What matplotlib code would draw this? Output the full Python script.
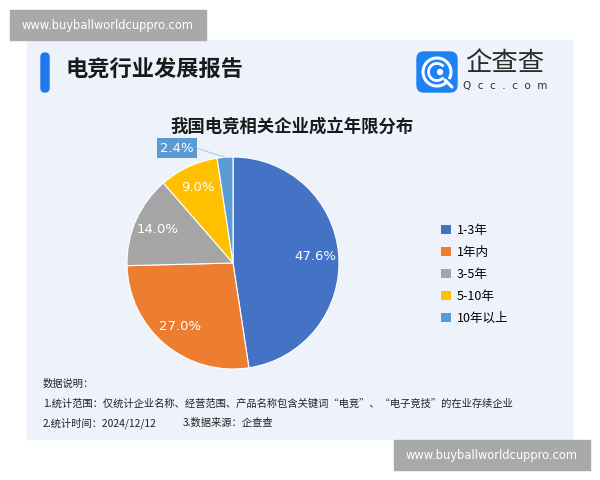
import numpy as np
import matplotlib
matplotlib.use('Agg')
import matplotlib.pyplot as plt
from matplotlib.patches import Rectangle, FancyBboxPatch, Circle, Arc

plt.rcParams['font.family'] = ['Noto Sans CJK SC', 'DejaVu Sans']

# данные
categories = ['1-3年', '1年内', '3-5年', '5-10年', '10年以上']
shares = [47.6, 27.0, 14.0, 9.0, 2.4]
colors = ['#4472C4', '#ED7D31', '#A5A5A5', '#FFC000', '#5B9BD5']

title = '电竞行业发展报告'
subtitle = '我国电竞相关企业成立年限分布'
notes = ['数据说明：',
         '1.统计范围：仅统计企业名称、经营范围、产品名称包含关键词“电竞”、“电子竞技”的在业存续企业',
         '2.统计时间：2024/12/12']
source_note = '3.数据来源：企查查'
watermark = 'www.buyballworldcuppro.com'

W, H = 600, 480
fig = plt.figure(figsize=(6, 4.8), dpi=100)
ax = fig.add_axes([0, 0, 1, 1])


def Y(y):
    # pixel rows from top -> data y
    return H - y


# фон панели
ax.add_patch(Rectangle((27, Y(439)), 572 - 27, 439 - 40, color='#EEF2FB', zorder=0))

# заголовок
ax.add_patch(FancyBboxPatch((41, Y(92)), 8, 39, boxstyle='round,pad=0,rounding_size=4',
                            color='#1F78F0', zorder=2))
ax.text(65, Y(70), title, fontsize=16, fontweight='bold', color='#1A1A1A',
        va='center', ha='left', zorder=3)

# логотип
ax.add_patch(FancyBboxPatch((417, Y(92)), 40, 40, boxstyle='round,pad=0,rounding_size=7',
                            color='#1E82F5', zorder=2))
ax.add_patch(Arc((437, Y(72)), 28, 28, theta1=-30, theta2=320, color='white', lw=2.2, zorder=3))
ax.add_patch(Arc((437, Y(72)), 17, 17, theta1=40, theta2=320, color='white', lw=2.0, zorder=3))
ax.add_patch(Circle((440, Y(72)), 2.5, color='white', zorder=3))
ax.plot([445, 452], [Y(80), Y(87)], color='white', lw=2.2, zorder=3, solid_capstyle='round')
ax.text(505, Y(64), '企查查', fontsize=19, color='#2B2B2B', ha='center', va='center', zorder=3)
ax.text(505, Y(86), 'Q  c  c  .  c  o  m', fontsize=7.5, color='#2B2B2B', ha='center', va='center',
        family='DejaVu Sans', zorder=3)

ax.text(292, Y(127), subtitle, fontsize=12.5, fontweight='bold', color='#1A1A1A',
        ha='center', va='center', zorder=3)

# круговая диаграмма
cx, cy, r = 233, Y(263), 106
wedges, texts, autotexts = ax.pie(shares, colors=colors, startangle=90, counterclock=False,
                                  center=(cx, cy), radius=r,
                                  autopct='%.1f%%', pctdistance=0.78,
                                  wedgeprops=dict(edgecolor='white', linewidth=0.8),
                                  textprops=dict(color='white', fontsize=9.5, family='DejaVu Sans'))
for t in autotexts:
    t.set_zorder(5)

# маленький сектор — подпись в рамке
w = wedges[-1]
mid = np.deg2rad((w.theta1 + w.theta2) / 2)
px, py = cx + r * np.cos(mid), cy + r * np.sin(mid)
last = autotexts[-1]
last.set_position((177, Y(148)))
last.set_bbox(dict(boxstyle='square,pad=0.25', facecolor=colors[-1], edgecolor='none'))
ax.plot([196, px], [Y(148), py], color='#B9C3D3', lw=0.7, zorder=4)

# легенда
leg = ax.legend(wedges, categories, loc='upper left',
                bbox_to_anchor=(430 / W, Y(213) / H), frameon=False,
                fontsize=9, handlelength=0.75, handleheight=0.75, handletextpad=0.5,
                labelspacing=0.72)
for h in leg.legend_handles:
    h.set_edgecolor('none')

# примечания
for i, s in enumerate(notes):
    ax.text(43, Y(384 + i * 19.5), s, fontsize=7.4, color='#222222', ha='left', va='center', zorder=3)
ax.text(183, Y(384 + 2 * 19.5), source_note, fontsize=7.4, color='#222222', ha='left',
        va='center', zorder=3)

# водяные знаки
ax.add_patch(Rectangle((10, Y(40)), 196, 30, color='#A9A9A9', zorder=6))
ax.text(108, Y(25), watermark, fontsize=8.3, color='white', ha='center', va='center',
        family='DejaVu Sans', zorder=7)
ax.add_patch(Rectangle((394, Y(470)), 196, 30, color='#A9A9A9', zorder=6))
ax.text(492, Y(455), watermark, fontsize=8.3, color='white', ha='center', va='center',
        family='DejaVu Sans', zorder=7)

ax.set_xlim(0, W)
ax.set_ylim(0, H)
ax.set_aspect('auto')
ax.axis('off')

fig.savefig('out.png', dpi=100, facecolor='white')
